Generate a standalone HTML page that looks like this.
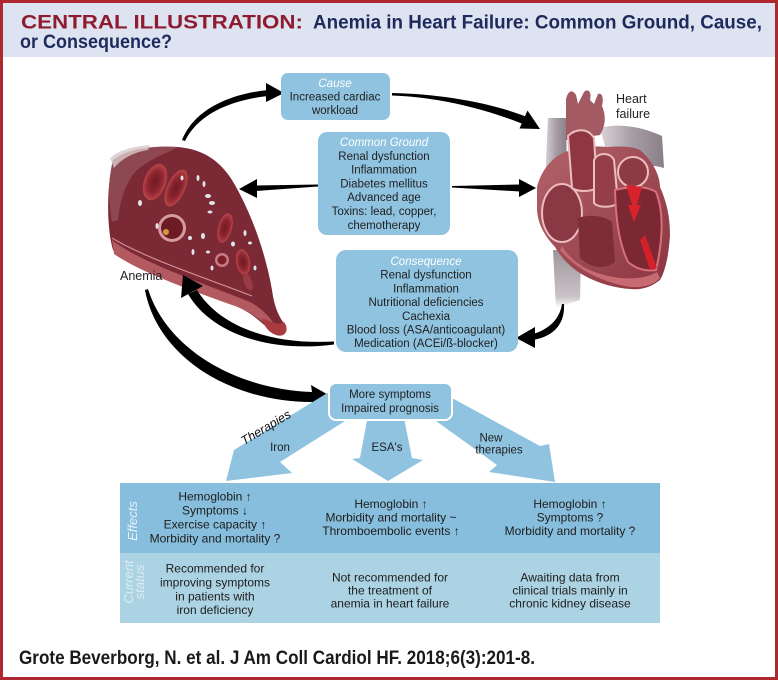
<!DOCTYPE html>
<html><head><meta charset="utf-8"><style>
html,body{margin:0;padding:0;background:#fff;}
svg{display:block;}
</style></head><body>
<svg width="778" height="680" viewBox="0 0 778 680" xmlns="http://www.w3.org/2000/svg" font-family="'Liberation Sans', sans-serif">
<defs>
<linearGradient id="gv" x1="0" x2="1" y1="0" y2="0"><stop offset="0" stop-color="#d9d3d7"/><stop offset="0.5" stop-color="#a79ea5"/><stop offset="1" stop-color="#8a7f87"/></linearGradient>
<linearGradient id="gv2" x1="0" x2="0" y1="0" y2="1"><stop offset="0" stop-color="#9f969c"/><stop offset="0.8" stop-color="#c9c2c6"/><stop offset="1" stop-color="#ffffff"/></linearGradient>
<linearGradient id="gh" x1="0" x2="1" y1="0" y2="1"><stop offset="0" stop-color="#b3626a"/><stop offset="1" stop-color="#8a3440"/></linearGradient>
<radialGradient id="rbc" cx="0.5" cy="0.5" r="0.5"><stop offset="0" stop-color="#6e1a24"/><stop offset="0.6" stop-color="#8e2630"/><stop offset="1" stop-color="#b8454b"/></radialGradient>
</defs>
<!-- frame -->
<rect x="0" y="0" width="778" height="680" fill="#b0282f"/>
<rect x="3" y="3" width="772" height="674" fill="#ffffff"/>
<rect x="3" y="3" width="772" height="54" fill="#dde3f1"/>
<text x="21" y="28.5" font-size="19" font-weight="bold" fill="#8e1b2e" textLength="282" lengthAdjust="spacingAndGlyphs">CENTRAL ILLUSTRATION:</text>
<text x="313" y="28.5" font-size="19" font-weight="bold" fill="#1e2a5c" textLength="449" lengthAdjust="spacingAndGlyphs">Anemia in Heart Failure: Common Ground, Cause,</text>
<text x="20" y="48" font-size="19" font-weight="bold" fill="#1e2a5c" textLength="152" lengthAdjust="spacingAndGlyphs">or Consequence?</text>

<!-- vessel (anemia) -->
<path d="M113,160 C125,150 150,145 178,147 C200,149 218,158 232,180 C250,210 265,250 272,290 C274,305 278,315 283,322 C287,328 284,334 277,333 C268,330 262,322 252,315 C230,300 200,290 170,280 C145,272 125,262 113,250 C107,230 106,190 113,160 Z" fill="#7b2934"/>
<path d="M113,160 C125,150 150,145 178,147 C170,152 150,158 135,172 C125,185 120,200 118,220 L112,222 C108,200 108,180 113,160 Z" fill="#94505a" opacity="0.8"/>
<path d="M110,158 C118,150 135,146 150,145 L148,150 C135,152 122,158 114,168 Z" fill="#d9c9cc" opacity="0.8"/>
<path d="M112,240 C140,262 200,282 250,302 C262,308 270,318 276,326 L272,330 C262,320 250,312 235,306 C190,290 140,272 114,254 Z" fill="#b35a60"/>
<path d="M112,238 C145,258 200,276 252,296" fill="none" stroke="#d08a90" stroke-width="1.2"/>
<path d="M262,318 C272,322 280,326 284,322 C290,330 285,338 276,335 C268,332 264,326 262,318 Z" fill="#a83a40"/>
<ellipse cx="155" cy="182" rx="11" ry="19" transform="rotate(20 155 182)" fill="url(#rbc)"/>
<ellipse cx="176" cy="188" rx="9" ry="20" transform="rotate(25 176 188)" fill="url(#rbc)"/>
<circle cx="172" cy="228" r="14" fill="#d69aa0"/>
<circle cx="172" cy="228" r="11" fill="#6d1c26"/>
<circle cx="166" cy="232" r="3" fill="#d49a40"/>
<ellipse cx="225" cy="228" rx="7" ry="15" transform="rotate(15 225 228)" fill="url(#rbc)"/>
<circle cx="222" cy="260" r="7" fill="#c77a80"/>
<circle cx="222" cy="260" r="4.5" fill="#7a1f28"/>
<ellipse cx="243" cy="262" rx="7" ry="13" transform="rotate(-10 243 262)" fill="url(#rbc)"/>
<ellipse cx="248" cy="282" rx="4" ry="9" transform="rotate(-20 248 282)" fill="#9a3a44"/>
<g fill="#dfe4ea">
<ellipse cx="140" cy="203" rx="2" ry="3"/><ellipse cx="198" cy="178" rx="1.5" ry="3"/><ellipse cx="204" cy="184" rx="1.5" ry="3"/>
<ellipse cx="208" cy="196" rx="3" ry="2"/><ellipse cx="212" cy="203" rx="3" ry="2"/><ellipse cx="210" cy="212" rx="2.5" ry="1.5"/>
<ellipse cx="157" cy="226" rx="1.5" ry="3"/><ellipse cx="203" cy="236" rx="2" ry="3"/><ellipse cx="193" cy="252" rx="1.5" ry="3"/>
<ellipse cx="208" cy="252" rx="2" ry="1.5"/><ellipse cx="245" cy="233" rx="1.5" ry="3"/><ellipse cx="250" cy="243" rx="2" ry="1.5"/>
<ellipse cx="233" cy="244" rx="2" ry="2.5"/><ellipse cx="182" cy="178" rx="1.5" ry="2.5"/><ellipse cx="255" cy="268" rx="1.5" ry="2.5"/>
<ellipse cx="212" cy="268" rx="1.5" ry="2.5"/><ellipse cx="190" cy="238" rx="2" ry="2"/>
</g>
<text x="120" y="280" font-size="12.5" fill="#222">Anemia</text>

<!-- heart -->
<path d="M548,118 L566,118 L567,176 L545,182 Z" fill="url(#gv)"/>
<path d="M553,250 L581,250 L580,300 L556,308 Z" fill="url(#gv2)"/>
<path d="M600,128 C620,122 645,128 662,136 L664,168 C645,162 625,168 612,172 Z" fill="url(#gv)"/>
<path d="M566,100 C567,92 572,88 576,95 L578,104 L584,92 C588,88 592,92 590,100 L594,104 L598,94 C602,92 604,98 602,106 C606,115 606,125 600,135 L566,140 Z" fill="#a35a62"/>
<path d="M537,187 C540,175 548,160 563,153 C580,146 595,146 607,147 C620,146 632,146 640,150 C652,160 660,175 660,187 C668,205 670,220 670,235 C669,252 666,270 660,280 C650,288 640,290 630,289 C615,288 600,284 585,276 C570,268 560,256 555,247 C545,236 538,225 537,210 Z" fill="url(#gh)"/>
<path d="M560,250 C575,268 600,282 630,287 C645,288 655,284 660,278 L657,272 C640,282 610,280 585,268 C572,260 565,252 562,246 Z" fill="#c86a72"/>
<ellipse cx="562" cy="213" rx="20" ry="29" fill="#8a3843" stroke="#ebbdc0" stroke-width="2"/>
<path d="M568,136 C576,128 588,128 594,138 L597,188 C590,192 578,192 572,188 Z" fill="#8e3742" stroke="#ebbdc0" stroke-width="2"/>
<path d="M594,160 C598,152 610,152 614,160 L618,203 C612,208 598,208 594,203 Z" fill="#933e48" stroke="#ebbdc0" stroke-width="2"/>
<ellipse cx="633" cy="172" rx="15" ry="15" fill="#8c3a44" stroke="#ebbdc0" stroke-width="2"/>
<path d="M615,190 C630,186 648,186 656,192 C663,210 664,235 656,270 C645,272 635,268 628,262 C620,245 616,225 615,190 Z" fill="#7b2833" stroke="#d8707a" stroke-width="2"/>
<path d="M578,218 C590,214 605,216 612,222 L615,262 C605,270 590,268 580,258 Z" fill="#7e2c36"/>
<polygon points="626,185 642,187 637,205 641,205 634,222 628,205 632,205" fill="#d7232b"/>
<path d="M645,235 L657,268 L650,270 L640,240 Z" fill="#d32029"/>
<text x="616" y="103" font-size="12.5" fill="#222">Heart</text>
<text x="616" y="118" font-size="12.5" fill="#222">failure</text>

<!-- black arrows -->
<g fill="#000">
<path d="M182,140 C194,110 229,94 268,90 L268,96 C231,100 198,114 185,141 Z"/>
<polygon points="266,83 284,93 266,102"/>
<path d="M392,93 C442,94 492,103 527,117 L523,124 C488,110 440,97 392,95.5 Z"/>
<polygon points="527.5,110.5 540,129 519.5,128.5"/>
<path d="M318,184.5 L256,185.5 L256,191 L318,186.5 Z"/>
<polygon points="257,179 239,189 257,198"/>
<path d="M452,186 L520,184.5 L520,191.5 L452,187.5 Z"/>
<polygon points="519,179 536,188 519,197"/>
<path d="M564,304 C565,323 555,336 533,340 L533,334 C550,329 560,318 562,304 Z"/>
<polygon points="535,327 516,338 535,348"/>
<path d="M334,344.5 C268,353 211,333 188,294 L197,290 C219,326 270,345 334,341.5 Z"/>
<polygon points="183,275 203,286 181,298"/>
<path d="M145,290 C157,355 228,402 312,402 L311,409 L332,397 L311,385 L312,392 C233,389 166,347 148,289 Z"/>
</g>

<!-- boxes -->
<g fill="#8fc3e0">
<rect x="281" y="73" width="109" height="47" rx="7"/>
<rect x="318" y="132" width="132" height="103" rx="9"/>
<rect x="336" y="250" width="182" height="102" rx="10"/>
</g>
<g font-size="11.5" fill="#1f1f1f" text-anchor="middle">
<text x="335" y="87" fill="#fff" font-style="italic">Cause</text>
<text x="335" y="100.5">Increased cardiac</text>
<text x="335" y="114">workload</text>
<text x="384" y="146" fill="#fff" font-style="italic">Common Ground</text>
<text x="384" y="159.8">Renal dysfunction</text>
<text x="384" y="173.6">Inflammation</text>
<text x="384" y="187.4">Diabetes mellitus</text>
<text x="384" y="201.2">Advanced age</text>
<text x="384" y="215">Toxins: lead, copper,</text>
<text x="384" y="228.8">chemotherapy</text>
<text x="426" y="265" fill="#fff" font-style="italic">Consequence</text>
<text x="426" y="278.7">Renal dysfunction</text>
<text x="426" y="292.4">Inflammation</text>
<text x="426" y="306.1">Nutritional deficiencies</text>
<text x="426" y="319.8">Cachexia</text>
<text x="426" y="333.5">Blood loss (ASA/anticoagulant)</text>
<text x="426" y="347.2">Medication (ACEi/ß-blocker)</text>
</g>

<!-- blue therapy arrows -->
<g fill="#8fc3e0">
<polygon points="329,392 340,398 345,421 280,462 292,473 226,481 234,450"/>
<polygon points="368,415 405,415 405,423 412,458 423,460 388,481 352,459 360,458"/>
<polygon points="452,398 540,446 549,444 555,482 489,472 497,465 436,421"/>
</g>
<rect x="329" y="383" width="123" height="37" rx="7" fill="#8fc3e0" stroke="#ffffff" stroke-width="2"/>
<g font-size="11.5" fill="#1f1f1f" text-anchor="middle">
<text x="390" y="398">More symptoms</text>
<text x="390" y="412">Impaired prognosis</text>
<text x="280" y="451">Iron</text>
<text x="387" y="451">ESA's</text>
<text x="491" y="441.5">New</text>
<text x="499" y="453.5">therapies</text>
</g>
<text transform="translate(268,431) rotate(-31)" text-anchor="middle" font-size="12.5" font-style="italic" fill="#111">Therapies</text>

<!-- table -->
<rect x="120" y="483" width="540" height="70" fill="#88bedd"/>
<rect x="120" y="553" width="540" height="70" fill="#acd3e3"/>
<text transform="translate(137,521) rotate(-90)" text-anchor="middle" font-size="13" font-style="italic" fill="#e6f1f8">Effects</text>
<text transform="translate(133,582) rotate(-90)" text-anchor="middle" font-size="13" font-style="italic" fill="#dcecf3">Current</text>
<text transform="translate(144,582) rotate(-90)" text-anchor="middle" font-size="13" font-style="italic" fill="#dcecf3">status</text>
<g font-size="12" fill="#1d1d1b" text-anchor="middle">
<text x="215" y="500.5">Hemoglobin ↑</text>
<text x="215" y="514.5">Symptoms ↓</text>
<text x="215" y="528.5">Exercise capacity ↑</text>
<text x="215" y="542.5">Morbidity and mortality ?</text>
<text x="391" y="508">Hemoglobin ↑</text>
<text x="391" y="521.5">Morbidity and mortality ~</text>
<text x="391" y="535">Thromboembolic events ↑</text>
<text x="570" y="508">Hemoglobin ↑</text>
<text x="570" y="521.5">Symptoms ?</text>
<text x="570" y="535">Morbidity and mortality ?</text>
<text x="215" y="572.5">Recommended for</text>
<text x="215" y="586.5">improving symptoms</text>
<text x="215" y="600.5">in patients with</text>
<text x="215" y="614">iron deficiency</text>
<text x="390" y="581.5">Not recommended for</text>
<text x="390" y="594.5">the treatment of</text>
<text x="390" y="607.5">anemia in heart failure</text>
<text x="570" y="581.5">Awaiting data from</text>
<text x="570" y="594.5">clinical trials mainly in</text>
<text x="570" y="607.5">chronic kidney disease</text>
</g>

<text x="19" y="664" font-size="19.5" font-weight="bold" fill="#1a1a1a" textLength="516" lengthAdjust="spacingAndGlyphs">Grote Beverborg, N. et al. J Am Coll Cardiol HF. 2018;6(3):201-8.</text>
</svg>
</body></html>
